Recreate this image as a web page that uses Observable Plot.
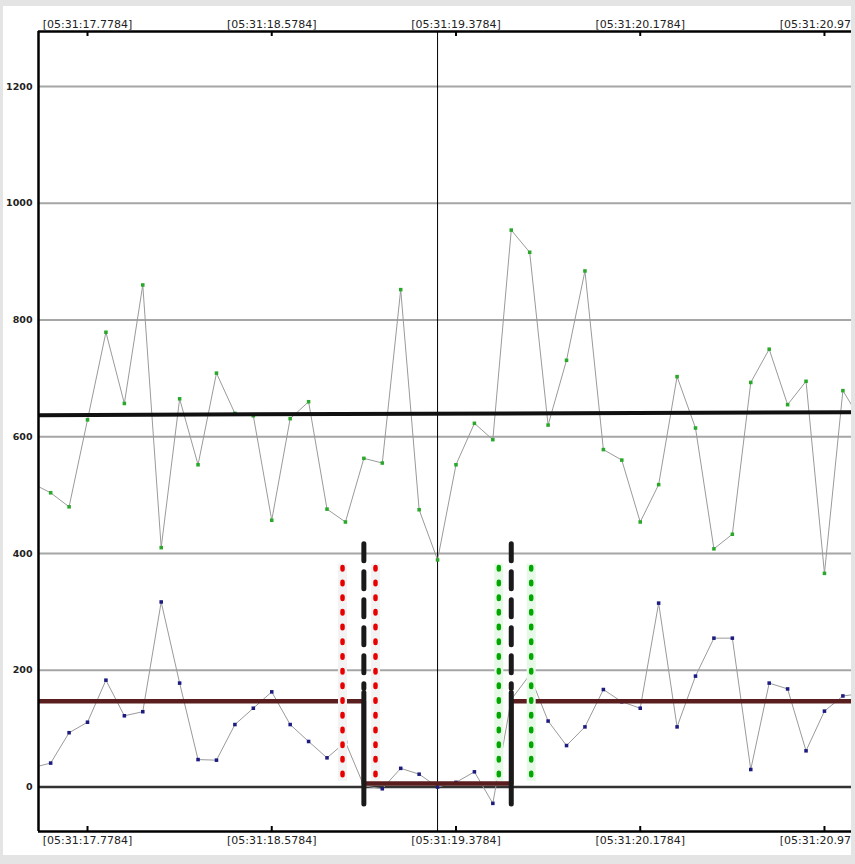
<!DOCTYPE html>
<html>
<head>
<meta charset="utf-8">
<script src="https://cdn.jsdelivr.net/npm/d3@7"></script>
<script src="https://cdn.jsdelivr.net/npm/@observablehq/plot@0.6"></script>
<style>
  html, body { margin: 0; padding: 0; background: #e4e4e4; }
  #panel { position: absolute; left: 3px; top: 6px; width: 848px; height: 849px; background: #fff; overflow: hidden; }
  #panel svg { display: block; overflow: hidden; }
</style>
</head>
<body>
<div id="panel"></div>
<script>
// sample times (seconds within 05:31)
const times = [17.5384, 17.6184, 17.6984, 17.7784, 17.8584, 17.9384, 18.0184, 18.0984, 18.1784, 18.2584,
  18.3384, 18.4184, 18.4984, 18.5784, 18.6584, 18.7384, 18.8184, 18.8984, 18.9784, 19.0584,
  19.1384, 19.2184, 19.2984, 19.3784, 19.4584, 19.5384, 19.6184, 19.6984, 19.7784, 19.8584,
  19.9384, 20.0184, 20.0984, 20.1784, 20.2584, 20.3384, 20.4184, 20.4984, 20.5784, 20.6584,
  20.7384, 20.8184, 20.8984, 20.9784, 21.0584, 21.1384];
const greenValues = [520, 504, 480, 629, 779, 657, 860, 410, 665, 552,
  709, 640, 636, 457, 631, 660, 476, 454, 563, 555,
  852, 475, 389, 552, 623, 595, 954, 916, 620, 731,
  884, 578, 560, 454, 518, 703, 615, 408, 433, 693,
  750, 655, 695, 366, 679, 627];
const blueValues = [33, 41, 93, 111, 183, 122, 129, 317, 178, 47,
  46, 107, 135, 163, 107, 78, 50, 77, 2, -3,
  32, 22, 0, 8, 26, -28, 150, 192, 113, 71,
  103, 167, 146, 135, 315, 103, 190, 255, 255, 30,
  178, 168, 62, 130, 156, 160];

// trend of the upper series
const greenMeanTimes = [17.5384, 21.1384];
const greenMeanValues = [637, 642];
// stepped mean of the lower series
const blueMeanTimes = [17.5384, 18.9784, 19.6184, 21.1384];
const blueMeanValues = [147, 6, 147, 147];

// event markers
const eventTimes = [18.9784, 19.6184];
const eventDashTop = 416, eventDashBottom = 168, eventSolidTop = 161, eventSolidBottom = -30;
const redTimes = [18.8857, 19.0289];
const greenMarkTimes = [19.5644, 19.7050];
const markerTop = 376, markerBottom = 16;
const cursorTime = 19.2984;

// axes
const xTicks = [17.7784, 18.5784, 19.3784, 20.1784, 20.9784];
const yTicks = [0, 200, 400, 600, 800, 1000, 1200];
const yGrid = [200, 400, 600, 800, 1000, 1200];
const xDomain = [17.5656, 21.0958];
const yDomain = [-76.2, 1294.2];

const green = times.map((t, i) => ({t, v: greenValues[i]}));
const blue = times.map((t, i) => ({t, v: blueValues[i]}));
const greenMean = greenMeanTimes.map((t, i) => ({t, v: greenMeanValues[i]}));
const blueMean = blueMeanTimes.map((t, i) => ({t, v: blueMeanValues[i]}));
const fmt = d => `[05:31:${d.toFixed(4)}]`;

const chart = Plot.plot({
  width: 848,
  height: 849,
  marginLeft: 35,
  marginRight: 0,
  marginTop: 25,
  marginBottom: 24,
  style: {fontFamily: "DejaVu Sans", fontSize: "11px", background: "white", color: "#222"},
  x: {domain: xDomain, axis: null, label: null},
  y: {domain: yDomain, axis: null, label: null},
  marks: [
    Plot.ruleY(yGrid, {stroke: "#a6a6a6", strokeWidth: 2}),
    Plot.ruleY([0], {stroke: "#333", strokeWidth: 2.5}),
    Plot.ruleX([cursorTime], {stroke: "#000", strokeWidth: 1}),
    Plot.line(green, {x: "t", y: "v", stroke: "#9a9a9a", strokeWidth: 1, clip: true}),
    Plot.line(blue, {x: "t", y: "v", stroke: "#9a9a9a", strokeWidth: 1, clip: true}),
    Plot.dot(green, {x: "t", y: "v", symbol: "square", r: 2, fill: "#2aa82a", clip: true}),
    Plot.dot(blue, {x: "t", y: "v", symbol: "square", r: 2, fill: "#1c1c80", clip: true}),
    Plot.line(greenMean, {x: "t", y: "v", stroke: "#111", strokeWidth: 4, clip: true}),
    Plot.line(blueMean, {x: "t", y: "v", curve: "step-after", stroke: "#5a1e1e", strokeWidth: 4.5, clip: true}),
    // marker halos
    Plot.ruleX(redTimes, {y1: markerTop + 6, y2: markerBottom - 6, stroke: "#f3f3f3", strokeWidth: 9}),
    Plot.ruleX(greenMarkTimes, {y1: markerTop + 6, y2: markerBottom - 6, stroke: "#e6f8e6", strokeWidth: 9}),
    // dotted markers
    Plot.ruleX(redTimes, {y1: markerTop, y2: markerBottom, stroke: "#e80000", strokeWidth: 4.5, strokeLinecap: "round", strokeDasharray: "2.5,12.2"}),
    Plot.ruleX(greenMarkTimes, {y1: markerTop, y2: markerBottom, stroke: "#00a800", strokeWidth: 4.5, strokeLinecap: "round", strokeDasharray: "2.5,12.2"}),
    // event lines
    Plot.ruleX(eventTimes, {y1: eventDashTop, y2: eventDashBottom, stroke: "#1a1a1a", strokeWidth: 5, strokeLinecap: "round", strokeDasharray: "17,11"}),
    Plot.ruleX(eventTimes, {y1: eventSolidTop, y2: eventSolidBottom, stroke: "#1a1a1a", strokeWidth: 5, strokeLinecap: "round"}),
    // frame
    Plot.ruleX([xDomain[0]], {stroke: "#000", strokeWidth: 2.5}),
    Plot.ruleY([yDomain[1]], {stroke: "#000", strokeWidth: 2.5}),
    Plot.ruleY([yDomain[0]], {stroke: "#000", strokeWidth: 2.5}),
    Plot.tickX(xTicks, {x: d => d, insetBottom: 795, stroke: "#000", strokeWidth: 2}),
    Plot.tickX(xTicks, {x: d => d, insetTop: 795, stroke: "#000", strokeWidth: 2}),
    Plot.axisX({anchor: "top", ticks: xTicks, tickFormat: fmt, tickSize: 0, tickPadding: 4, fill: "#222", label: null}),
    Plot.axisX({anchor: "bottom", ticks: xTicks, tickFormat: fmt, tickSize: 0, tickPadding: 5, fill: "#222", label: null}),
    Plot.axisY({anchor: "left", ticks: yTicks, tickFormat: d => String(d), tickSize: 0, tickPadding: 6, fontWeight: "bold", fontSize: 9.5, fill: "#222", label: null})
  ]
});
document.getElementById("panel").appendChild(chart);
</script>
</body>
</html>
